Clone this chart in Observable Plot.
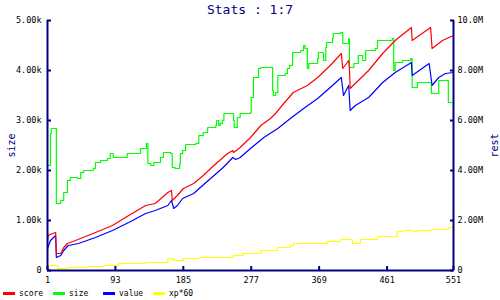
<!DOCTYPE html>
<html><head><meta charset="utf-8">
<script src="https://cdn.jsdelivr.net/npm/d3@7"></script>
<script src="https://cdn.jsdelivr.net/npm/@observablehq/plot@0.6"></script>
<style>
body{margin:0;background:#fff;width:500px;height:300px;overflow:hidden;font-family:"DejaVu Sans Mono",monospace;position:relative;}
#title{position:absolute;left:0;top:0;width:500px;text-align:center;color:#000080;font-size:13px;line-height:20px;}
#chart{position:absolute;left:0;top:16px;}
#legend{position:absolute;left:0;top:286px;width:500px;height:14px;font-size:8px;}
.item{position:absolute;top:0;height:14px;}
.sw{position:absolute;left:0;top:6px;width:12px;height:3px;}
.lab{position:absolute;left:16px;top:0;line-height:15px;color:#000;white-space:nowrap;}
g[aria-label="y-axis label"] text{fill:#000080;font-size:10px;}
</style>
</head><body>
<div id="title">Stats : 1:7</div>
<div id="chart"></div>
<div id="legend"></div>
<script>
const xTicks = [1, 93, 185, 277, 369, 461, 551];
const leftTicks = [0, 1000, 2000, 3000, 4000, 5000];
const seriesNames = ["score", "size", "value", "xp*60"];
const seriesColors = ["#ff0000", "#00ff00", "#0000ff", "#ffff00"];

// size (left axis, raw units)
const sizeX = [1,5,6,12,13,19,23,28,32,42,46,50,63,66,73,82,86,90,100,109,123,127,135,137,141,145,154,158,168,170,174,180,181,184,188,202,206,212,218,229,230,233,235,238,240,252,253,254,258,262,276,277,280,287,290,303,306,307,310,313,323,326,329,333,344,348,350,353,355,364,367,368,374,375,378,379,387,388,398,401,409,410,416,418,422,428,432,445,448,468,470,472,482,493,495,502,517,521,529,531,540,544,551];
const sizeY = [2100,2740,2840,2840,1340,1400,1560,1800,1860,1840,1960,2000,2040,2160,2200,2240,2340,2260,2260,2340,2340,2440,2540,2140,2100,2160,2260,2360,2340,2060,2040,2140,2340,2400,2520,2540,2700,2760,2860,2900,3000,2900,2940,3000,3140,3140,3000,2860,3060,3140,3160,3460,3860,4040,4060,4060,3600,3500,3560,3900,3940,4040,4100,4360,4400,4500,4440,4040,4140,4140,4240,4360,4340,4200,4460,4560,4640,4740,4760,4540,4640,4060,4140,4140,4300,4200,4400,4440,4600,4640,4000,4160,4200,4240,3660,3760,3760,3540,3540,3800,3800,3360,3340];

// score (right axis, millions)
const scoreX = [1,2,8,12,13,19,23,28,39,66,89,111,134,147,164,169,170,177,185,199,212,222,231,245,252,253,262,276,290,303,310,321,334,353,367,384,399,401,409,410,411,418,436,455,472,494,495,520,522,536,551];
const scoreY = [1.20,1.40,1.48,1.52,0.68,0.68,0.92,1.08,1.20,1.52,1.80,2.20,2.60,2.68,3.12,3.20,2.80,3.00,3.28,3.48,3.80,4.08,4.32,4.68,4.80,4.72,4.92,5.32,5.80,6.08,6.28,6.68,7.12,7.40,7.72,8.20,8.68,8.08,8.40,8.12,7.28,7.48,8.00,8.68,9.20,9.72,9.20,9.72,8.88,9.20,9.40];

// value (right axis, millions)
const valueX = [1,5,12,13,19,23,29,43,66,89,111,134,147,164,169,172,177,184,199,208,222,239,252,256,262,276,294,313,330,348,367,384,399,402,409,411,418,436,455,472,494,495,518,522,531,540,551];
const valueY = [0.88,1.20,1.40,0.52,0.60,0.80,1.00,1.08,1.32,1.60,1.92,2.28,2.40,2.60,2.80,2.48,2.60,2.88,3.08,3.32,3.68,4.12,4.52,4.44,4.52,4.88,5.32,5.68,6.08,6.48,6.88,7.32,7.72,7.00,7.40,6.40,6.60,6.92,7.52,7.92,8.32,7.80,8.28,7.40,7.72,7.88,7.92];

// xp*60 (right axis, millions)
const xpX = [1,12,15,29,55,77,97,116,134,147,164,172,185,208,231,253,266,276,290,307,313,330,334,380,398,411,414,421,425,448,449,470,475,483,497,502,520,543,544,551];
const xpY = [0.20,0.20,0.08,0.12,0.16,0.20,0.28,0.28,0.32,0.32,0.48,0.40,0.48,0.52,0.52,0.60,0.68,0.68,0.80,0.80,0.92,1.00,1.08,1.16,1.24,1.24,1.08,1.08,1.24,1.32,1.36,1.36,1.56,1.60,1.56,1.60,1.64,1.64,1.72,1.76];

const M = 500; // 1M on right axis == 500 units on left axis (10.0M <-> 5.00k)
const pts = (xs, ys, f = 1) => xs.map((x, i) => ({x, y: ys[i] * f}));
const fmt = d3.format(".3s");
const fmtL = d => d === 0 ? "0" : fmt(d);
const fmtR = d => d === 0 ? "0" : fmt(d * 2000);
const navy = "#000080";

const chart = Plot.plot({
  width: 500, height: 270,
  marginTop: 4, marginBottom: 16, marginLeft: 47, marginRight: 47,
  x: {domain: [1, 551]},
  y: {domain: [0, 5000]},
  style: {fontFamily: "DejaVu Sans Mono, monospace", fontSize: "8.5px", color: "black", background: "white", overflow: "visible"},
  marks: [
    Plot.line(pts(xpX, xpY, M), {x: "x", y: "y", stroke: seriesColors[3], strokeWidth: 1.2, curve: "step-after"}),
    Plot.line(pts(sizeX, sizeY), {x: "x", y: "y", stroke: seriesColors[1], strokeWidth: 1.2, curve: "step-after"}),
    Plot.line(pts(valueX, valueY, M), {x: "x", y: "y", stroke: seriesColors[2], strokeWidth: 1.2}),
    Plot.line(pts(scoreX, scoreY, M), {x: "x", y: "y", stroke: seriesColors[0], strokeWidth: 1.2}),
    Plot.ruleX([1, 551], {stroke: navy, strokeWidth: 2}),
    Plot.ruleY([0], {stroke: navy, strokeWidth: 2}),
    Plot.axisY(leftTicks, {anchor: "left", tickSize: -4, tickPadding: 10, stroke: navy, strokeWidth: 2, fill: "black", tickFormat: fmtL, label: "size", labelAnchor: "center", labelArrow: "none", labelOffset: 40}),
    Plot.axisY(leftTicks, {anchor: "right", tickSize: -4, tickPadding: 8, stroke: navy, strokeWidth: 2, fill: "black", tickFormat: fmtR, label: "rest", labelAnchor: "center", labelArrow: "none", labelOffset: 44}),
    Plot.axisX(xTicks, {anchor: "bottom", tickSize: -4, tickPadding: 10, stroke: navy, strokeWidth: 2, fill: "black", tickFormat: d => String(d), label: null})
  ]
});
document.getElementById("chart").appendChild(chart);

// right-axis label reads bottom-to-top as in the reference
chart.querySelectorAll('g[aria-label="y-axis label"] text').forEach(t => {
  const tr = t.getAttribute("transform") || "";
  if (/rotate\(90\)/.test(tr)) t.setAttribute("transform", tr.replace("rotate(90)", "rotate(-90)"));
});

const leg = document.getElementById("legend");
seriesNames.forEach((name, i) => {
  const it = document.createElement("div");
  it.className = "item";
  it.style.left = (3 + 50 * i) + "px";
  const sw = document.createElement("div");
  sw.className = "sw";
  sw.style.background = seriesColors[i];
  const lb = document.createElement("div");
  lb.className = "lab";
  lb.textContent = name;
  it.appendChild(sw); it.appendChild(lb);
  leg.appendChild(it);
});
</script>
</body></html>
